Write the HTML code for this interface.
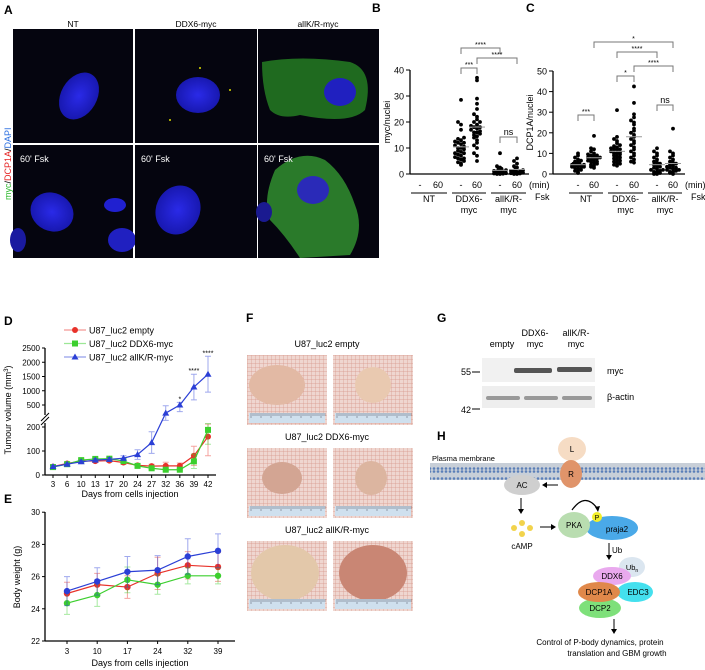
<!DOCTYPE html>
<html><head><meta charset="utf-8"><style>
html,body{margin:0;padding:0;background:#fff}
svg{display:block;font-family:"Liberation Sans",Arial,sans-serif}
</style></head><body>
<svg id="fig" width="705" height="670" viewBox="0 0 705 670" xmlns="http://www.w3.org/2000/svg">
<defs>
<radialGradient id="gnuc" cx="50%" cy="50%" r="50%"><stop offset="0" stop-color="#2a2ae8"/><stop offset="1" stop-color="#1818b0"/></radialGradient>
<pattern id="grid" width="4" height="4" patternUnits="userSpaceOnUse"><rect width="4" height="4" fill="#efd6d0"/><path d="M4 0V4M0 4H4" stroke="#d8968a" stroke-width="0.7"/></pattern>
<pattern id="mem" width="4" height="10" patternUnits="userSpaceOnUse"><rect width="4" height="10" fill="#c8cfd8"/><circle cx="2" cy="1.5" r="1.3" fill="#5b7fb8"/><circle cx="2" cy="8.5" r="1.3" fill="#5b7fb8"/></pattern>
</defs>

<!-- Panel A -->
<g>
<text x="4" y="14" font-size="12" font-weight="bold">A</text>
<text x="73" y="27" font-size="8.5" text-anchor="middle">NT</text>
<text x="196" y="27" font-size="8.5" text-anchor="middle">DDX6-myc</text>
<text x="318" y="27" font-size="8.5" text-anchor="middle">allK/R-myc</text>
<text transform="translate(11,200) rotate(-90)" font-size="9"><tspan fill="#2db82d">myc</tspan><tspan fill="#000">/</tspan><tspan fill="#e52020">DCP1A</tspan><tspan fill="#000">/</tspan><tspan fill="#2a6ee0">DAPI</tspan></text>
<g><rect x="13" y="29" width="120" height="114" fill="#05050f"/><ellipse cx="79" cy="96" rx="18" ry="25" transform="rotate(30 79 96)" fill="url(#gnuc)"/></g>
<g><rect x="135" y="29" width="122" height="114" fill="#05050f"/><ellipse cx="198" cy="95" rx="22" ry="18" fill="url(#gnuc)"/><circle cx="200" cy="68" r="1" fill="#dd0"/><circle cx="230" cy="90" r="1" fill="#dd0"/><circle cx="170" cy="120" r="1" fill="#dd0"/></g>
<g><rect x="258" y="29" width="121" height="114" fill="#05050f"/><path d="M262 62 Q300 55 350 62 Q375 70 365 110 Q350 125 300 115 Q280 120 270 110 Q262 90 262 62Z" fill="#1f6a1f"/><ellipse cx="340" cy="92" rx="16" ry="14" fill="#2020c0"/></g>
<g><rect x="13" y="145" width="120" height="113" fill="#05050f"/><ellipse cx="52" cy="212" rx="22" ry="19" transform="rotate(25 52 212)" fill="url(#gnuc)"/><ellipse cx="115" cy="205" rx="11" ry="7" fill="#2020d0"/><ellipse cx="122" cy="240" rx="14" ry="12" fill="#2020c0"/><ellipse cx="18" cy="240" rx="8" ry="12" fill="#1a1aa0"/></g>
<g><rect x="135" y="145" width="122" height="113" fill="#05050f"/><ellipse cx="178" cy="210" rx="22" ry="25" transform="rotate(25 178 210)" fill="url(#gnuc)"/></g>
<g><rect x="258" y="145" width="121" height="113" fill="#05050f"/><path d="M275 170 Q300 148 325 160 Q345 175 355 205 Q365 230 350 255 L300 258 Q285 235 270 220 Q262 200 275 170Z" fill="#2a7a2a"/><ellipse cx="313" cy="190" rx="16" ry="14" fill="#2a2ab8"/><ellipse cx="264" cy="212" rx="8" ry="10" fill="#1a1a90"/></g>
<text x="20" y="162" font-size="9" fill="#fff">60' Fsk</text>
<text x="141" y="162" font-size="9" fill="#fff">60' Fsk</text>
<text x="264" y="162" font-size="9" fill="#fff">60' Fsk</text>
</g>

<text x="372" y="12" font-size="12" font-weight="bold">B</text>
<text x="526" y="12" font-size="12" font-weight="bold">C</text>
<g id="gB"></g>
<g id="gC"></g>

<text x="4" y="325" font-size="12" font-weight="bold">D</text>
<text x="4" y="503" font-size="12" font-weight="bold">E</text>
<g id="gD"></g>
<g id="gE"></g>

<!-- Panel F -->
<g>
<text x="246" y="322" font-size="12" font-weight="bold">F</text>
<text x="327" y="347" font-size="9" text-anchor="middle">U87_luc2 empty</text>
<text x="327" y="440" font-size="9" text-anchor="middle">U87_luc2 DDX6-myc</text>
<text x="327" y="533" font-size="9" text-anchor="middle">U87_luc2 allK/R-myc</text>
<g id="gF"></g>
</g>

<!-- Panel G -->
<g>
<text x="437" y="322" font-size="12" font-weight="bold">G</text>
<text x="535" y="336" font-size="9" text-anchor="middle">DDX6-</text>
<text x="576" y="336" font-size="9" text-anchor="middle">allK/R-</text>
<text x="502" y="347" font-size="9" text-anchor="middle">empty</text>
<text x="535" y="347" font-size="9" text-anchor="middle">myc</text>
<text x="576" y="347" font-size="9" text-anchor="middle">myc</text>
<rect x="482" y="358" width="113" height="24" fill="#f1f1f1"/>
<rect x="482" y="386" width="113" height="22" fill="#eeeeee"/>
<rect x="514" y="368" width="38" height="5" rx="2" fill="#555"/><rect x="557" y="367" width="35" height="5" rx="2" fill="#555"/>
<rect x="486" y="396" width="34" height="4" rx="2" fill="#999"/><rect x="524" y="396" width="34" height="4" rx="2" fill="#999"/><rect x="562" y="396" width="30" height="4" rx="2" fill="#999"/>
<text x="471" y="375" font-size="9" text-anchor="end">55</text>
<line x1="472" y1="372" x2="480" y2="372" stroke="#000"/>
<text x="471" y="413" font-size="9" text-anchor="end">42</text>
<line x1="472" y1="409" x2="480" y2="409" stroke="#000"/>
<text x="607" y="374" font-size="9">myc</text>
<text x="607" y="400" font-size="9">β-actin</text>
</g>

<!-- Panel H -->
<g>
<text x="437" y="440" font-size="12" font-weight="bold">H</text>
<rect x="430" y="463" width="275" height="17" fill="url(#mem)"/>
<text x="432" y="461" font-size="7.5">Plasma membrane</text>
<ellipse cx="572" cy="449" rx="14" ry="12" fill="#f6dcc4"/><text x="572" y="452" font-size="8" text-anchor="middle">L</text>
<ellipse cx="571" cy="474" rx="11" ry="14" fill="#e0946a"/><text x="571" y="477" font-size="8" text-anchor="middle">R</text>
<ellipse cx="522" cy="485" rx="18" ry="10" fill="#cfcfcf"/><text x="522" y="488" font-size="8" text-anchor="middle">AC</text>
<line x1="558" y1="485" x2="545" y2="485" stroke="#000"/><path d="M542 485 l5 -3 v6z"/>
<line x1="521" y1="498" x2="521" y2="510" stroke="#000"/><path d="M521 514 l-3 -5 h6z"/>
<g fill="#f2d34c"><circle cx="514" cy="528" r="3"/><circle cx="522" cy="523" r="3"/><circle cx="530" cy="528" r="3"/><circle cx="522" cy="534" r="3"/></g>
<text x="522" y="549" font-size="8" text-anchor="middle">cAMP</text>
<line x1="540" y1="527" x2="552" y2="527" stroke="#000"/><path d="M556 527 l-5 -3 v6z"/>
<ellipse cx="612" cy="528" rx="26" ry="12" fill="#4aa9e8"/><text x="617" y="532" font-size="8" text-anchor="middle">praja2</text>
<ellipse cx="574" cy="525" rx="16" ry="13" fill="#b9ddb0"/><text x="574" y="528" font-size="8" text-anchor="middle">PKA</text>
<circle cx="597" cy="517" r="5" fill="#f2ee2a"/><text x="597" y="520" font-size="7" text-anchor="middle">P</text>
<path d="M572 510 Q585 492 597 508" fill="none" stroke="#000" stroke-width="1.2"/><path d="M598 512 l-3 -5 l5 -1z"/>
<line x1="609" y1="543" x2="609" y2="556" stroke="#000"/><path d="M609 560 l-3 -5 h6z"/><text x="612" y="553" font-size="8">Ub</text>
<ellipse cx="632" cy="567" rx="13" ry="10" fill="#dbe6f0"/><text x="632" y="570" font-size="7.5" text-anchor="middle">Ub<tspan font-size="5" dy="2">n</tspan></text>
<ellipse cx="612" cy="576" rx="19" ry="9" fill="#e9a9ee"/><text x="612" y="579" font-size="8" text-anchor="middle">DDX6</text>
<ellipse cx="635" cy="592" rx="18" ry="10" fill="#44e0ee"/><text x="638" y="595" font-size="8" text-anchor="middle">EDC3</text>
<ellipse cx="600" cy="608" rx="21" ry="10" fill="#7ee07a"/><text x="600" y="611" font-size="8" text-anchor="middle">DCP2</text>
<ellipse cx="599" cy="592" rx="21" ry="10" fill="#e0884a"/><text x="599" y="595" font-size="8" text-anchor="middle">DCP1A</text>
<line x1="614" y1="619" x2="614" y2="630" stroke="#000"/><path d="M614 634 l-3 -5 h6z"/>
<text x="600" y="645" font-size="8" text-anchor="middle">Control of P-body dynamics, protein</text>
<text x="617" y="656" font-size="8" text-anchor="middle">translation and GBM growth</text>
</g>
</svg>
<script>
// ---------- Panel B data ----------
const bGroups = ["NT","DDX6-myc","allK/R-myc"];
const bNT0 = [];
const bNT60 = [];
const bDDX0 = [28.5,20,19,17,14,13.5,13,12.5,12,11.5,11,10.5,10,9.5,9,8.5,8,7.5,7,6.5,6,5.5,5,4.5,4,3.5,12,10,8,6];
const bDDX60 = [37,36,29,27,25,23,22,21,20,19,18.5,18,17.5,17,16.5,16,15.5,15,14.5,14,13,12,11,10,8,7,5,16,18,20];
const bKR0 = [8,3,2.5,2,1.5,1,1,0.8,0.5,0.5,0.3,0.2,0.1,0,0,1.2,2,0.6];
const bKR60 = [6,5,4,3,2.5,2,1.5,1,1,0.8,0.5,0.3,0.2,0,0,1.2,0.6];
const bTicks = [0,10,20,30,40];
// ---------- Panel C data ----------
const cNT0 = [10,9,8,7,6.5,6,5.5,5,5,4.5,4.5,4,4,3.5,3.5,3,3,2.5,2,1.5,1,0.5,4,5];
const cNT60 = [18.5,12.5,12,11,10,9.5,9,8.5,8,8,7.5,7,7,6.5,6,6,5.5,5,4.5,4,3.5,3,8,9];
const cDDX0 = [31,18,17,16,15,14,13.5,13,12.5,12,11.5,11,10.5,10,9.5,9,8.5,8,7.5,7,6.5,6,5.5,5,4.5,4,12,10];
const cDDX60 = [42.5,34.5,29,27.5,26,25,24,22,21,20,19,18,17,16,15,14,13,12,11,10,9,8,7,6,5.5];
const cKR0 = [12.5,11,10,9,8,7,6,5.5,5,4.5,4,3.5,3,2.5,2,1.5,1,0.5,0,0,1,2];
const cKR60 = [22,11,10,9,8,7,6,5.5,5,4.5,4,3.5,3,2.5,2,1.5,1,0.5,0,1,2,3];
const cTicks = [0,10,20,30,40,50];
// ---------- Panel D data ----------
const dDays = [3,6,10,13,17,20,24,27,32,36,39,42];
const dEmpty = [35,48,58,58,60,52,40,37,38,38,80,160];
const dEmptyErr = [5,6,6,6,6,8,8,8,15,12,40,80];
const dDDX6 = [33,45,62,67,68,58,38,28,22,22,57,188];
const dDDX6Err = [5,5,6,6,6,6,6,6,5,5,30,60];
const dKR = [35,45,55,62,65,70,85,135,390,500,1130,1580];
const dKRErr = [5,5,6,6,8,10,20,45,100,90,450,630];
const dLowTicks = [0,100,200];
const dHighTicks = [500,1000,1500,2000,2500];
const dStars = ["","","","","","","","","","*","****","****"];
// ---------- Panel E data ----------
const eDays = [3,10,17,24,32,39];
const eEmpty = [24.95,25.5,25.35,26.2,26.7,26.6];
const eEmptyErr = [0.7,0.7,0.7,1.0,0.85,0.9];
const eDDX6 = [24.35,24.85,25.8,25.5,26.05,26.05];
const eDDX6Err = [0.7,0.7,0.8,0.6,0.5,0.5];
const eKR = [25.1,25.7,26.3,26.4,27.25,27.6];
const eKRErr = [0.9,0.85,0.95,0.9,1.1,1.05];
const eTicks = [22,24,26,28,30];

const NS="http://www.w3.org/2000/svg";
function mk(parent,tag,attrs,text){const e=document.createElementNS(NS,tag);for(const k in attrs)e.setAttribute(k,attrs[k]);if(text!==undefined)e.textContent=text;parent.appendChild(e);return e;}

function scatter(g,axX,y0,pxPer,ticks,yLabel,cols,series,brackets,groupX){
  const yS=v=>y0-v*pxPer;
  const yTop=yS(ticks[ticks.length-1]);
  const ax=mk(g,'line',{x1:axX,y1:yTop,x2:axX,y2:y0,stroke:'#000','stroke-width':1.3});
  
  
  const xa=mk(g,'line',{x1:axX,y1:y0,x2:cols[5]+12,y2:y0,stroke:'#000','stroke-width':1.3});
  
  
  ticks.forEach(t=>{mk(g,'line',{x1:axX-4,y1:yS(t),x2:axX,y2:yS(t),stroke:'#000'});
    const tl=mk(g,'text',{x:axX-6,y:yS(t)+3.5,'font-size':9,'text-anchor':'end'},t);
    
    });
  const yl=mk(g,'text',{transform:`translate(${axX-20},${(yTop+y0)/2}) rotate(-90)`,'font-size':9,'text-anchor':'middle'},yLabel);
  
  
  const offs=[0,-3,3,-6,6,-1.5,1.5,-4.5,4.5,-7.5,7.5];
  series.forEach((arr,si)=>{
    const cx=cols[si];
    const sorted=arr.slice().sort((a,b)=>a-b);
    const cnt={};
    sorted.forEach((v,i)=>{const key=Math.round(v/1.5);cnt[key]=(cnt[key]||0);const o=offs[cnt[key]%offs.length];cnt[key]++;
      const c=mk(g,'circle',{cx:cx+o,cy:yS(v),r:1.9,fill:'#000'});
      
      });
    if(arr.length){const m=arr.reduce((a,b)=>a+b,0)/arr.length;
      const ml=mk(g,'line',{x1:cx-8,y1:yS(m),x2:cx+8,y2:yS(m),stroke:'#999','stroke-width':1});
      
      }
    const lab=mk(g,'text',{x:cx,y:y0+14,'font-size':9,'text-anchor':'middle'},si%2?'60':'-');
    
    
  });
  const mn=mk(g,'text',{x:cols[5]+12,y:y0+14,'font-size':9},'(min)');
  
  
  const fk=mk(g,'text',{x:cols[5]+18,y:y0+26,'font-size':9},'Fsk');
  
  
  for(let k=0;k<3;k++){const a=cols[2*k]-9,b=cols[2*k+1]+9;
    mk(g,'line',{x1:a,y1:y0+19,x2:b,y2:y0+19,stroke:'#000'});
    const lines=groupX[k];
    lines.forEach((s,j)=>{const t=mk(g,'text',{x:(a+b)/2,y:y0+28+j*11,'font-size':9,'text-anchor':'middle'},s);
      
      });}
  brackets.forEach(br=>{const [i,j,yb,lab]=br;const x1=cols[i],x2=cols[j];
    mk(g,'path',{d:`M${x1} ${yb+6}V${yb}H${x2}V${yb+6}`,fill:'none',stroke:'#777'});
    const t=mk(g,'text',{x:(x1+x2)/2,y:lab==='ns'?yb-2:yb-1,'font-size':lab==='ns'?9:7,'text-anchor':'middle'},lab);
    
    });
}
scatter(document.getElementById('gB'),410,174,2.6,bTicks,'myc/nuclei',[420,438,461,477,500,517],
  [bNT0,bNT60,bDDX0,bDDX60,bKR0,bKR60],
  [[2,3,68,'***'],[2,4,48,'****'],[3,5,58,'****'],[4,5,137,'ns']],
  [['NT'],['DDX6-','myc'],['allK/R-','myc']]);
scatter(document.getElementById('gC'),553,174,2.06,cTicks,'DCP1A/nuclei',[578,594,617,634,657,673],
  [cNT0,cNT60,cDDX0,cDDX60,cKR0,cKR60],
  [[0,1,115,'***'],[2,3,76,'*'],[2,4,52,'****'],[3,5,66,'****'],[1,5,42,'*'],[4,5,105,'ns']],
  [['NT'],['DDX6-','myc'],['allK/R-','myc']]);

// ---------- Panel D ----------
(function(){
  const g=document.getElementById('gD');
  const axX=45,y0=475,x0=53,x1=208;
  const xS=i=>x0+i*(x1-x0)/(dDays.length-1);
  const yS=v=>{if(v<=200)return y0-v*0.24;if(v<=500)return 427-(v-200)/300*22;return 405-(v-500)/2000*57;};
  mk(g,'line',{x1:axX,y1:y0,x2:axX,y2:423,stroke:'#000','stroke-width':1.3});
  mk(g,'line',{x1:axX,y1:415,x2:axX,y2:348,stroke:'#000','stroke-width':1.3});
  mk(g,'path',{d:'M41 425 L49 417 M41 421 L49 413',stroke:'#000',fill:'none'});
  mk(g,'line',{x1:axX,y1:y0,x2:x1+8,y2:y0,stroke:'#000','stroke-width':1.3});
  dLowTicks.concat(dHighTicks).forEach(t=>{mk(g,'line',{x1:axX-3,y1:yS(t),x2:axX,y2:yS(t),stroke:'#000'});
    const tl=mk(g,'text',{x:axX-5,y:yS(t)+3,'font-size':8,'text-anchor':'end'},t);
    
    });
  dDays.forEach((d,i)=>{mk(g,'line',{x1:xS(i),y1:y0,x2:xS(i),y2:y0+3,stroke:'#000'});
    const tl=mk(g,'text',{x:xS(i),y:y0+12,'font-size':8,'text-anchor':'middle'},d);
    
    });
  const xt=mk(g,'text',{x:130,y:497,'font-size':9,'text-anchor':'middle'},'Days from cells injection');
  
  
  const yt=mk(g,'text',{transform:'translate(11,410) rotate(-90)','font-size':9,'text-anchor':'middle'});
  
  
  yt.innerHTML='Tumour volume (mm<tspan font-size="6" dy="-3">3</tspan><tspan dy="3">)</tspan>';
  const ser=[[dEmpty,dEmptyErr,'#e8322a','circle','U87_luc2 empty'],[dDDX6,dDDX6Err,'#3ccf2e','square','U87_luc2 DDX6-myc'],[dKR,dKRErr,'#2b3fd6','tri','U87_luc2 allK/R-myc']];
  ser.forEach((s,si)=>{const [v,e,c,sh,name]=s;
    v.forEach((val,i)=>{const x=xS(i);const hi=val+e[i],lo=Math.max(0,val-e[i]);
      mk(g,'path',{d:`M${x} ${yS(lo)}V${yS(hi)}M${x-3} ${yS(hi)}h6M${x-3} ${yS(lo)}h6`,stroke:c,'stroke-opacity':0.45,fill:'none'});});
    const pl=mk(g,'polyline',{points:v.map((val,i)=>xS(i)+','+yS(val)).join(' '),fill:'none',stroke:c,'stroke-width':1.2});
    
    
    v.forEach((val,i)=>{const x=xS(i),y=yS(val);let m;
      if(sh==='circle')m=mk(g,'circle',{cx:x,cy:y,r:3,fill:c});
      else if(sh==='square')m=mk(g,'rect',{x:x-3,y:y-3,width:6,height:6,fill:c});
      else m=mk(g,'path',{d:`M${x} ${y-3.5}L${x+3.5} ${y+2.5}L${x-3.5} ${y+2.5}Z`,fill:c});
      
      });
    const ly=330+si*13.5;
    mk(g,'line',{x1:64,y1:ly,x2:86,y2:ly,stroke:c,'stroke-width':1.2,'stroke-opacity':0.5});
    if(sh==='circle')mk(g,'circle',{cx:75,cy:ly,r:3,fill:c});else if(sh==='square')mk(g,'rect',{x:72,y:ly-3,width:6,height:6,fill:c});else mk(g,'path',{d:`M75 ${ly-3.5}L78.5 ${ly+2.5}L71.5 ${ly+2.5}Z`,fill:c});
    const lt=mk(g,'text',{x:89,y:ly+3.5,'font-size':9},name);
    
    
  });
  dStars.forEach((s,i)=>{if(!s)return;const t=mk(g,'text',{x:xS(i),y:yS(dKR[i]+dKRErr[i])-1,'font-size':7,'text-anchor':'middle'},s);
    
    });
})();

// ---------- Panel E ----------
(function(){
  const g=document.getElementById('gE');
  const axX=45,yS=v=>641-(v-22)*16.1,x0=67,x1=218;
  const xS=i=>x0+i*(x1-x0)/(eDays.length-1);
  mk(g,'line',{x1:axX,y1:512,x2:axX,y2:641,stroke:'#000','stroke-width':1.3});
  mk(g,'line',{x1:axX,y1:641,x2:235,y2:641,stroke:'#000','stroke-width':1.3});
  eTicks.forEach(t=>{mk(g,'line',{x1:axX-3,y1:yS(t),x2:axX,y2:yS(t),stroke:'#000'});
    const tl=mk(g,'text',{x:axX-5,y:yS(t)+3,'font-size':8,'text-anchor':'end'},t);
    
    });
  eDays.forEach((d,i)=>{mk(g,'line',{x1:xS(i),y1:641,x2:xS(i),y2:644,stroke:'#000'});
    const tl=mk(g,'text',{x:xS(i),y:654,'font-size':8,'text-anchor':'middle'},d);
    
    });
  const xt=mk(g,'text',{x:140,y:666,'font-size':9,'text-anchor':'middle'},'Days from cells injection');
  
  
  const yt=mk(g,'text',{transform:'translate(20,577) rotate(-90)','font-size':9,'text-anchor':'middle'},'Body weight (g)');
  
  
  [[eEmpty,eEmptyErr,'#e8322a'],[eDDX6,eDDX6Err,'#3ccf2e'],[eKR,eKRErr,'#2b3fd6']].forEach(s=>{const [v,e,c]=s;
    v.forEach((val,i)=>{const x=xS(i);mk(g,'path',{d:`M${x} ${yS(val-e[i])}V${yS(val+e[i])}M${x-3} ${yS(val+e[i])}h6M${x-3} ${yS(val-e[i])}h6`,stroke:c,'stroke-opacity':0.45,fill:'none'});});
    const pl=mk(g,'polyline',{points:v.map((val,i)=>xS(i)+','+yS(val)).join(' '),fill:'none',stroke:c,'stroke-width':1.2});
    
    
    v.forEach((val,i)=>{const p=mk(g,'circle',{cx:xS(i),cy:yS(val),r:3.2,fill:c});
      
      });
  });
})();

// ---------- Panel F photos ----------
(function(){
  const g=document.getElementById('gF');
  const rows=[355,448,541],cols=[247,333];
  const tumours=[[[30,30,28,20,'#e2b9a4'],[40,30,18,18,'#e9c9b0']],[[35,30,20,16,'#d3a593'],[38,30,16,17,'#dcb5a0']],[[38,32,34,28,'#e3c8aa'],[40,32,34,28,'#c98674']]];
  rows.forEach((y,r)=>cols.forEach((x,c)=>{
    const ph=mk(g,'g',{});
    
    
    mk(ph,'rect',{x:x,y:y,width:80,height:70,fill:'url(#grid)'});
    const t=tumours[r][c];
    mk(ph,'ellipse',{cx:x+t[0],cy:y+t[1],rx:t[2],ry:t[3],fill:t[4]});
    mk(ph,'rect',{x:x+2,y:y+58,width:76,height:10,fill:'#cfe0ee'});
    for(let k=0;k<38;k++)mk(ph,'line',{x1:x+4+k*2,y1:y+58,x2:x+4+k*2,y2:y+(k%5?61:63),stroke:'#334','stroke-width':0.4});
  }));
})();
</script>
</body></html>
